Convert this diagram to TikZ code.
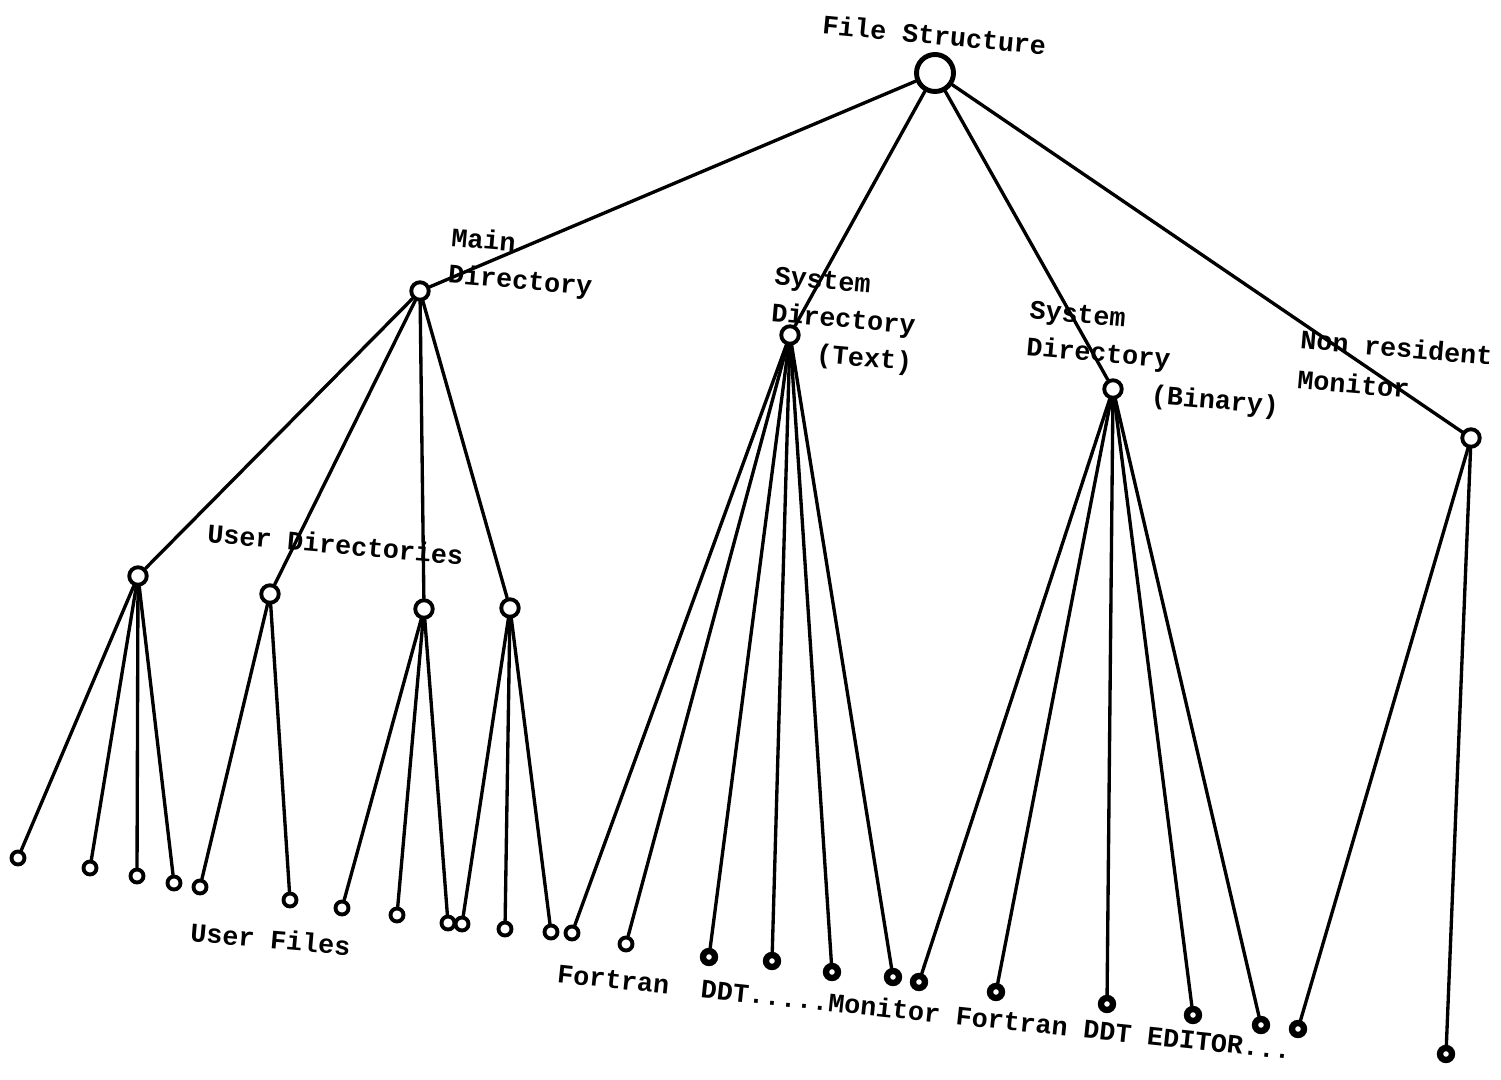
\documentclass[tikz,border=0pt]{standalone}
\usepackage{fontspec}
\setmonofont{Liberation Mono}

\begin{document}
\begin{tikzpicture}[line cap=round,
  branch/.style={line width=0.95pt},
  rootnode/.style={circle,draw,line width=1.4pt,minimum size=3.7mm,inner sep=0pt},
  dirnode/.style={circle,draw,line width=1.1pt,minimum size=1.75mm,inner sep=0pt},
  leaf/.style={circle,draw,line width=1.1pt,minimum size=1.3mm,inner sep=0pt},
  darkleaf/.style={leaf,line width=1.8pt,minimum size=1.2mm},
  lbl/.style={font=\ttfamily\bfseries\fontsize{7.6}{10.5}\selectfont,rotate=-5,inner sep=0pt,align=left}]
\useasboundingbox (0,0) rectangle (15.01,10.79);
% directories
\node[rootnode] (fs) at (9.35,10.06) {};
\node[dirnode] (main) at (4.20,7.88) {};
\node[dirnode] (systext) at (7.90,7.44) {};
\node[dirnode] (sysbin) at (11.13,6.90) {};
\node[dirnode] (nonres) at (14.71,6.41) {};
\node[dirnode] (ud1) at (1.38,5.03) {};
\node[dirnode] (ud2) at (2.70,4.85) {};
\node[dirnode] (ud3) at (4.24,4.70) {};
\node[dirnode] (ud4) at (5.10,4.71) {};
% user files
\node[leaf] (a1) at (0.18,2.21) {};
\node[leaf] (a2) at (0.90,2.11) {};
\node[leaf] (a3) at (1.37,2.03) {};
\node[leaf] (a4) at (1.74,1.96) {};
\node[leaf] (b1) at (2.00,1.92) {};
\node[leaf] (b2) at (2.90,1.79) {};
\node[leaf] (c1) at (3.42,1.71) {};
\node[leaf] (c2) at (3.97,1.64) {};
\node[leaf] (c3) at (4.48,1.56) {};
\node[leaf] (d1) at (4.62,1.55) {};
\node[leaf] (d2) at (5.05,1.50) {};
\node[leaf] (d3) at (5.51,1.47) {};
% system files
\node[leaf] (t1) at (5.72,1.46) {};
\node[leaf] (t2) at (6.26,1.35) {};
\node[darkleaf] (t3) at (7.09,1.22) {};
\node[darkleaf] (t4) at (7.72,1.18) {};
\node[darkleaf] (t5) at (8.32,1.07) {};
\node[darkleaf] (t6) at (8.93,1.02) {};
\node[darkleaf] (s1) at (9.19,0.97) {};
\node[darkleaf] (s2) at (9.96,0.87) {};
\node[darkleaf] (s3) at (11.07,0.75) {};
\node[darkleaf] (s4) at (11.93,0.64) {};
\node[darkleaf] (s5) at (12.61,0.54) {};
\node[darkleaf] (n1) at (12.98,0.50) {};
\node[darkleaf] (n2) at (14.46,0.25) {};
% branches
\draw[branch] (fs) -- (main);
\draw[branch] (fs) -- (systext);
\draw[branch] (fs) -- (sysbin);
\draw[branch] (fs) -- (nonres);
\draw[branch] (main) -- (ud1);
\draw[branch] (main) -- (ud2);
\draw[branch] (main) -- (ud3);
\draw[branch] (main) -- (ud4);
\draw[branch] (ud1) -- (a1);
\draw[branch] (ud1) -- (a2);
\draw[branch] (ud1) -- (a3);
\draw[branch] (ud1) -- (a4);
\draw[branch] (ud2) -- (b1);
\draw[branch] (ud2) -- (b2);
\draw[branch] (ud3) -- (c1);
\draw[branch] (ud3) -- (c2);
\draw[branch] (ud3) -- (c3);
\draw[branch] (ud4) -- (d1);
\draw[branch] (ud4) -- (d2);
\draw[branch] (ud4) -- (d3);
\draw[branch] (systext) -- (t1);
\draw[branch] (systext) -- (t2);
\draw[branch] (systext) -- (t3);
\draw[branch] (systext) -- (t4);
\draw[branch] (systext) -- (t5);
\draw[branch] (systext) -- (t6);
\draw[branch] (sysbin) -- (s1);
\draw[branch] (sysbin) -- (s2);
\draw[branch] (sysbin) -- (s3);
\draw[branch] (sysbin) -- (s4);
\draw[branch] (sysbin) -- (s5);
\draw[branch] (nonres) -- (n1);
\draw[branch] (nonres) -- (n2);
% labels
\node[lbl,anchor=west,rotate=-0.5] (fslbl) at (8.22,10.55) {File Structure};
\node[lbl,anchor=north west] (mainlbl) at (4.52,8.53) {Main\\Directory};
\node[lbl,anchor=north west] (textlbl) at (7.75,8.13) {System\\Directory\\\phantom{Dir}(Text)};
\node[lbl,anchor=north west] (binlbl) at (10.30,7.79) {System\\Directory\\\phantom{Director}(Binary)};
\node[lbl,anchor=west] (nonreslbl) at (13.00,7.40) {Non resident};
\node[lbl,anchor=west] (monlbl) at (12.97,7.00) {Monitor};
\node[lbl,anchor=west] (udlbl) at (2.07,5.46) {User Directories};
\node[lbl,anchor=west] (uflbl) at (1.90,1.47) {User Files};
\node[lbl,anchor=west,rotate=-1] (sflbl) at (5.57,1.06) {Fortran\ \ DDT.....Monitor Fortran DDT EDITOR...};
\end{tikzpicture}
\end{document}
